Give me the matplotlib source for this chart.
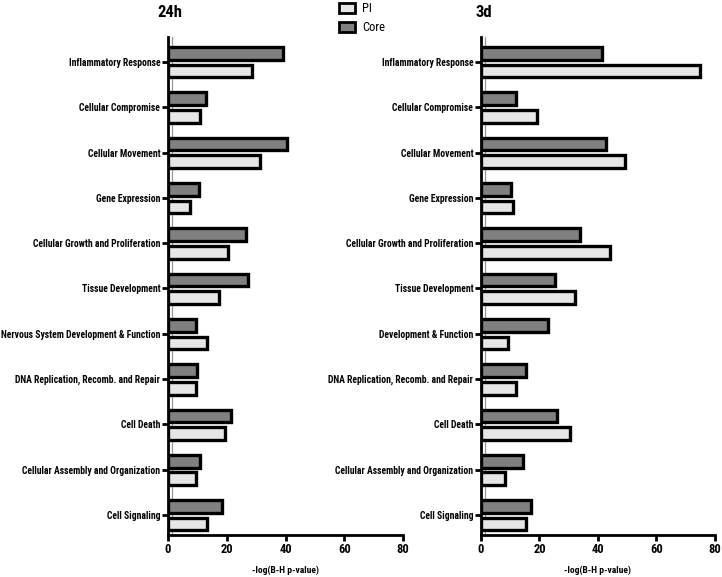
import matplotlib
matplotlib.use("Agg")
import matplotlib.pyplot as plt
from matplotlib import font_manager as fm
from matplotlib.patches import Patch

# prefer a narrow font (reference looks like condensed Calibri)
available = {f.name for f in fm.fontManager.ttflist}
candidates = ['Roboto Condensed', 'Open Sans Condensed', 'Liberation Sans Narrow',
              'Archivo Narrow', 'PT Sans Narrow', 'Carlito', 'Liberation Sans']
FONT = next((c for c in candidates if c in available), 'DejaVu Sans')
plt.rcParams['font.family'] = [FONT, 'DejaVu Sans']

# categories, top to bottom
cats_24h = ['Inflammatory Response', 'Cellular Compromise', 'Cellular Movement',
            'Gene Expression', 'Cellular Growth and Proliferation', 'Tissue Development',
            'Nervous System Development & Function', 'DNA Replication, Recomb. and Repair',
            'Cell Death', 'Cellular Assembly and Organization', 'Cell Signaling']
cats_3d = ['Inflammatory Response', 'Cellular Compromise', 'Cellular Movement',
           'Gene Expression', 'Cellular Growth and Proliferation', 'Tissue Development',
           'Development & Function', 'DNA Replication, Recomb. and Repair',
           'Cell Death', 'Cellular Assembly and Organization', 'Cell Signaling']

core_24h = [39.1, 12.8, 40.4, 10.5, 26.5, 27.3, 9.4, 9.9, 21.3, 10.9, 18.3]
pi_24h = [28.5, 10.9, 31.3, 7.5, 20.4, 17.3, 13.4, 9.4, 19.4, 9.4, 13.2]
core_3d = [41.4, 11.9, 42.9, 10.2, 33.8, 25.3, 22.9, 15.5, 25.9, 14.4, 17.0]
pi_3d = [75.0, 19.3, 49.3, 11.0, 44.2, 32.3, 9.4, 12.1, 30.4, 8.3, 15.5]

threshold = 1.3  # -log(0.05)
xticks = [0, 20, 40, 60, 80]

CORE_C = '#808080'
PI_C = '#e6e6e6'

fig = plt.figure(figsize=(7.22, 5.77), dpi=100, facecolor='white')
ax1 = fig.add_axes([0.2327, 0.0728, 0.3255, 0.8631])
ax2 = fig.add_axes([0.6662, 0.0728, 0.3241, 0.8631])

# size the category labels so the longest one is ~158 px wide, like the reference
renderer = fig.canvas.get_renderer()
probe = fig.text(0, 0, 'Nervous System Development & Function', fontsize=8, fontweight='bold')
w = probe.get_window_extent(renderer).width
probe.remove()
LABEL_SIZE = min(8.0, 8.0 * 158.0 / w)


def draw_panel(ax, cats, core, pi, title):
    n = len(cats)
    ys = [-i for i in range(n)]
    ax.barh([y + 0.185 for y in ys], core, height=0.28, color=CORE_C,
            edgecolor='black', linewidth=2.4, zorder=3)
    ax.barh([y - 0.2 for y in ys], pi, height=0.28, color=PI_C,
            edgecolor='black', linewidth=2.4, zorder=3)
    ax.axvline(threshold, color='#999999', linewidth=0.9, zorder=2)
    ax.set_xlim(0, 80)
    ax.set_ylim(-(n - 1) - 0.44, 0.55)
    ax.set_yticks(ys)
    ax.set_yticklabels(cats, fontsize=LABEL_SIZE, fontweight='bold')
    ax.set_xticks(xticks)
    ax.set_xticklabels([str(t) for t in xticks], fontsize=9, fontweight='bold')
    ax.tick_params(axis='both', width=2, length=4, direction='out', pad=1.5)
    for s in ['top', 'right']:
        ax.spines[s].set_visible(False)
    for s in ['left', 'bottom']:
        ax.spines[s].set_linewidth(2)
    ax.set_xlabel('-log(B-H p-value)', fontsize=6.8, fontweight='bold', labelpad=7)
    ax.text(0.01, 1.035, title, transform=ax.transAxes, ha='center', va='bottom',
            fontsize=12, fontweight='bold')


draw_panel(ax1, cats_24h, core_24h, pi_24h, '24h')
draw_panel(ax2, cats_3d, core_3d, pi_3d, '3d')

handles = [Patch(facecolor=PI_C, edgecolor='black', linewidth=2, label='PI'),
           Patch(facecolor=CORE_C, edgecolor='black', linewidth=2, label='Core')]
fig.legend(handles=handles, loc='upper left', bbox_to_anchor=(0.462, 1.005),
           frameon=False, fontsize=9, handlelength=1.3, handleheight=0.9,
           handletextpad=0.6, labelspacing=0.5, borderaxespad=0)

fig.savefig('out.png', dpi=100, facecolor='white')
